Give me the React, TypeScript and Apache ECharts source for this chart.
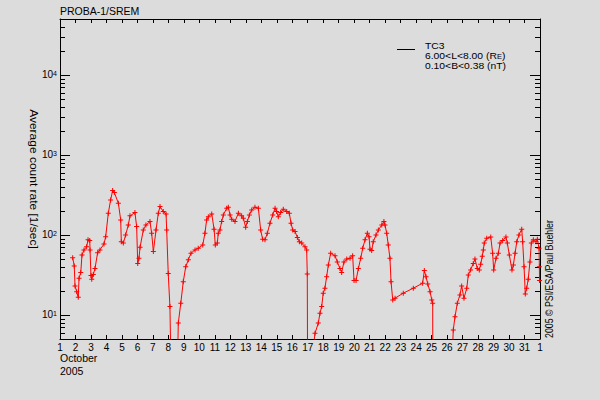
import React, { useEffect, useRef } from 'react';
import * as echarts from 'echarts';

// Day of October 2005 (fractional) and average count rate [1/sec]
const days = [
  1.82, 1.92, 1.97, 2.08, 2.18, 2.23, 2.34, 2.42, 2.55, 2.72,
  2.81, 2.92, 2.94, 3.0, 3.05, 3.15, 3.26, 3.43, 3.58, 3.84,
  3.95, 4.12, 4.27, 4.4, 4.51, 4.77, 4.92, 4.96, 5.09, 5.24,
  5.41, 5.52, 5.84, 5.95, 6.02, 6.1, 6.17, 6.38, 6.55, 6.81,
  6.92, 7.03, 7.2, 7.35, 7.46, 7.67, 7.85, 7.89, 7.99, 8.1,
  8.17, 8.58, 8.64, 8.8, 8.96, 9.12, 9.29, 9.46, 9.72, 9.93,
  10.22, 10.36, 10.47, 10.58, 10.8, 10.95, 11.03, 11.16, 11.22, 11.33,
  11.44, 11.55, 11.77, 11.87, 11.98, 12.09, 12.3, 12.52, 12.73, 12.84,
  12.99, 13.1, 13.23, 13.38, 13.59, 13.81, 13.96, 14.09, 14.24, 14.39,
  14.56, 14.74, 14.89, 14.99, 15.1, 15.25, 15.42, 15.64, 15.81, 15.92,
  16.03, 16.18, 16.33, 16.46, 16.61, 16.82, 16.93, 16.97, 16.99, 17.36,
  17.47, 17.68, 17.79, 17.9, 18.0, 18.11, 18.22, 18.33, 18.48, 18.76,
  18.91, 19.08, 19.19, 19.34, 19.52, 19.73, 19.9, 19.99, 20.12, 20.27,
  20.42, 20.55, 20.7, 20.85, 20.96, 21.02, 21.13, 21.23, 21.41, 21.56,
  21.78, 21.92, 21.99, 22.1, 22.2, 22.31, 22.38, 22.49, 22.64, 23.17,
  23.82, 24.42, 24.53, 24.64, 24.75, 24.9, 25.01, 25.07, 25.08, 26.33,
  26.4, 26.51, 26.66, 26.83, 26.94, 27.09, 27.27, 27.37, 27.52, 27.69,
  27.8, 27.95, 28.08, 28.17, 28.27, 28.34, 28.4, 28.56, 28.82, 28.94,
  29.01, 29.16, 29.31, 29.42, 29.59, 29.8, 29.89, 30.02, 30.19, 30.28,
  30.39, 30.5, 30.64, 30.82, 30.88, 30.97, 31.05, 31.14, 31.24, 31.35,
  31.44, 31.57, 31.74, 31.83, 31.94, 31.96, 31.97,
];

const rates = [
  52, 41, 23, 19.5, 16.6, 28.7, 33.8, 56, 65, 71,
  87, 85, 65, 31, 28, 32, 38, 60, 65, 77,
  95, 187, 274, 358, 338, 249, 154, 82, 79, 100,
  133, 173, 190, 127, 44, 51, 70, 115, 133, 147,
  105, 62, 115, 187, 226, 196, 183, 115, 33, 12.7,
  2, 2, 7.9, 14, 26, 40, 49, 59, 65, 68,
  75, 105, 154, 169, 183, 118, 75, 79, 105, 115,
  147, 178, 216, 222, 178, 157, 147, 187, 173, 162,
  125, 147, 178, 205, 222, 216, 115, 88, 87, 105,
  140, 178, 216, 196, 169, 190, 210, 196, 187, 140,
  115, 110, 93, 82, 79, 71, 65, 32.5, 2, 4,
  5.9, 7.9, 10.5, 12.7, 18.7, 21.6, 30, 42, 59, 55,
  46, 38, 34, 46, 50, 51, 55, 27, 27, 38,
  51, 68, 87, 105, 95, 66, 64, 82, 100, 115,
  133, 147, 133, 105, 75, 51, 26, 15.4, 16.2, 18.7,
  21.6, 24.9, 35.8, 30, 24.4, 19.5, 15.4, 14, 1, 3,
  6.5, 9.5, 14, 17.8, 23, 16.2, 21.6, 31.6, 36.5, 44,
  50, 38, 36.5, 43, 54, 65, 79, 91, 94, 59,
  36.5, 51, 59, 79, 85, 94, 79, 56, 36.5, 42,
  59, 82, 100, 118, 82, 40, 18.3, 21.6, 28, 46,
  79, 87, 82, 88, 68, 40, 27,
];

const xMin = 1;
const xMax = 32; // 1 November
const yMin = 5;
const yMax = 50000;
const decades = [1, 10, 100, 1000, 10000];
const minorMultipliers = [2, 3, 4, 5, 6, 7, 8, 9];

const titleText = 'PROBA-1/SREM';
const yTitle = 'Average count rate [1/sec]';
const creditText = '2005 \u00A9 PSI/ESA/Paul Buehler';
const legendName = 'TC3';
const legendLines = ['6.00<L<8.00 (R{sub|E})', '0.10<B<0.38 (nT)'];
const FONT = 'Liberation Sans';

export default function App() {
  const ref = useRef<HTMLDivElement>(null);

  useEffect(() => {
    if (!ref.current) return;
    const chart = echarts.init(ref.current, undefined, { renderer: 'svg' });

    const minorTicks: number[] = [];
    decades.forEach((d) =>
      minorMultipliers.forEach((k) => {
        const v = k * d;
        if (v > yMin && v < yMax) minorTicks.push(v);
      })
    );

    const lineData = days.map((d, i) => [d, rates[i]]);

    const axisLineStyle = { color: '#000', width: 1 };

    const legendTextStyle = (text: string) => ({
      text,
      fill: '#000',
      fontSize: 9,
      fontFamily: FONT,
      align: 'left',
      verticalAlign: 'middle',
      rich: { sub: { fontSize: 6.5, fontFamily: FONT, fill: '#000', verticalAlign: 'bottom' } },
    });

    const option: any = {
      animation: false,
      backgroundColor: '#dcdcdc',
      textStyle: { fontFamily: FONT },
      grid: { left: 60, right: 60, top: 19, bottom: 61, containLabel: false },
      xAxis: [
        {
          type: 'value',
          min: xMin,
          max: xMax,
          interval: 1,
          position: 'bottom',
          axisLine: { show: true, onZero: false, lineStyle: axisLineStyle },
          axisTick: { show: true, inside: true, length: 4, lineStyle: { color: '#000' } },
          axisLabel: {
            show: true,
            color: '#000',
            fontSize: 10,
            fontFamily: FONT,
            margin: 3,
            formatter: (v: number) => (v === xMax ? '1' : String(v)),
          },
          splitLine: { show: false },
        },
        {
          type: 'value',
          min: xMin,
          max: xMax,
          interval: 1,
          position: 'top',
          axisLine: { show: true, onZero: false, lineStyle: axisLineStyle },
          axisTick: { show: true, inside: true, length: 4, lineStyle: { color: '#000' } },
          axisLabel: { show: false },
          splitLine: { show: false },
        },
      ],
      yAxis: [
        {
          type: 'log',
          logBase: 10,
          min: yMin,
          max: yMax,
          position: 'left',
          axisLine: { show: true, onZero: false, lineStyle: axisLineStyle },
          axisTick: { show: true, inside: true, length: 10, lineStyle: { color: '#000' } },
          axisLabel: {
            show: true,
            margin: 3,
            showMinLabel: false,
            showMaxLabel: false,
            formatter: (v: number) => {
              const e = Math.log10(v);
              if (Math.abs(e - Math.round(e)) > 1e-6) return '';
              return '{b|10}{s|' + Math.round(e) + '}';
            },
            rich: {
              b: { fontSize: 10, color: '#000', fontFamily: FONT },
              s: { fontSize: 7, color: '#000', fontFamily: FONT, verticalAlign: 'top' },
            },
          },
          splitLine: { show: false },
        },
        {
          type: 'log',
          logBase: 10,
          min: yMin,
          max: yMax,
          position: 'right',
          axisLine: { show: true, onZero: false, lineStyle: axisLineStyle },
          axisTick: { show: true, inside: true, length: 10, lineStyle: { color: '#000' } },
          axisLabel: { show: false },
          splitLine: { show: false },
        },
      ],
      series: [
        {
          type: 'custom',
          xAxisIndex: 0,
          yAxisIndex: 0,
          silent: true,
          clip: false,
          data: minorTicks.map((v) => [xMin, v]),
          renderItem: (params: any, api: any) => {
            const v = api.value(1);
            const pL = api.coord([xMin, v]);
            const pR = api.coord([xMax, v]);
            const y = Math.round(pL[1]) + 0.5;
            const xl = Math.round(pL[0]);
            const xr = Math.round(pR[0]);
            return {
              type: 'group',
              children: [
                { type: 'line', shape: { x1: xl, y1: y, x2: xl + 5, y2: y }, style: { stroke: '#000', lineWidth: 1 } },
                { type: 'line', shape: { x1: xr - 5, y1: y, x2: xr, y2: y }, style: { stroke: '#000', lineWidth: 1 } },
              ],
            };
          },
        },
        {
          type: 'line',
          name: legendName,
          xAxisIndex: 0,
          yAxisIndex: 0,
          data: lineData,
          clip: true,
          symbol: 'path://M0,2H5V3H0ZM2,0H3V5H2Z',
          symbolSize: 5,
          showSymbol: true,
          showAllSymbol: true,
          itemStyle: { color: '#ff0000' },
          lineStyle: { color: '#ff0000', width: 1 },
        },
      ],
      graphic: [
        {
          type: 'text',
          x: 60,
          y: 11,
          style: { text: titleText, fill: '#000', fontSize: 10.5, fontFamily: FONT, align: 'left', verticalAlign: 'middle' },
        },
        {
          type: 'text',
          x: 34,
          y: 179,
          rotation: -Math.PI / 2,
          scaleX: 1.09,
          style: { text: yTitle, fill: '#000', fontSize: 11, fontFamily: FONT, align: 'center', verticalAlign: 'middle' },
        },
        {
          type: 'text',
          x: 549,
          y: 338,
          rotation: Math.PI / 2,
          scaleX: 0.8,
          style: { text: creditText, fill: '#000', fontSize: 11, fontFamily: FONT, align: 'left', verticalAlign: 'middle' },
        },
        {
          type: 'text',
          x: 60,
          y: 358,
          style: { text: 'October', fill: '#000', fontSize: 10.5, fontFamily: FONT, align: 'left', verticalAlign: 'middle' },
        },
        {
          type: 'text',
          x: 60,
          y: 371,
          style: { text: '2005', fill: '#000', fontSize: 10.5, fontFamily: FONT, align: 'left', verticalAlign: 'middle' },
        },
        {
          type: 'line',
          shape: { x1: 397, y1: 49.5, x2: 415, y2: 49.5 },
          style: { stroke: '#000', lineWidth: 1 },
        },
        { type: 'text', x: 425, y: 46, scaleX: 1.15, style: legendTextStyle(legendName) },
        { type: 'text', x: 425, y: 56, scaleX: 1.15, style: legendTextStyle(legendLines[0]) },
        { type: 'text', x: 425, y: 66, scaleX: 1.15, style: legendTextStyle(legendLines[1]) },
      ],
    };

    chart.setOption(option);
    return () => chart.dispose();
  }, []);

  return <div ref={ref} style={{ position: 'fixed', left: 0, top: 0, width: 600, height: 400 }} />;
}
